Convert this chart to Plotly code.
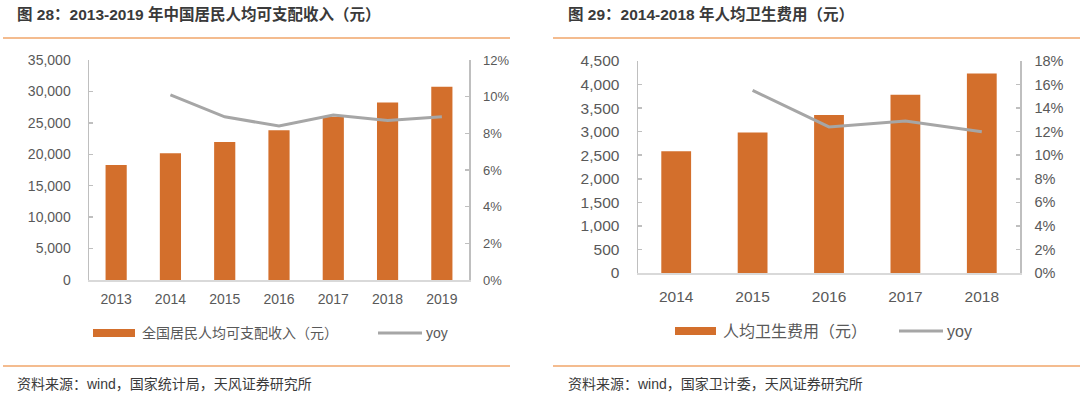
import plotly.graph_objects as go

# ---------------- data ----------------
years_a = ["2013", "2014", "2015", "2016", "2017", "2018", "2019"]
income = [18311, 20167, 21966, 23821, 25974, 28228, 30733]
income_yoy = [None, 0.101, 0.089, 0.084, 0.090, 0.087, 0.089]

years_b = ["2014", "2015", "2016", "2017", "2018"]
health = [2582, 2981, 3352, 3784, 4237]
health_yoy = [None, 0.155, 0.124, 0.129, 0.120]

title_a = "图 28：2013-2019 年中国居民人均可支配收入（元）"
title_b = "图 29：2014-2018 年人均卫生费用（元）"
legend_a = "全国居民人均可支配收入（元）"
legend_b = "人均卫生费用（元）"
source_a = "资料来源：wind，国家统计局，天风证券研究所"
source_b = "资料来源：wind，国家卫计委，天风证券研究所"

W, H = 1080, 396
BAR = "#D36F2C"
LINE = "#A6A6A6"
AX = "#BFBFBF"
TXT = "#595959"
ORANGE_RULE = "#F0A66A"
CJK = "Liberation Sans, Noto Sans CJK SC, sans-serif"
NUM = "Liberation Sans, Arial, sans-serif"


def px(x):
    return x / W


def py(y):
    return 1 - y / H


fig = go.Figure()
fig.add_trace(go.Bar(x=years_a, y=income, marker=dict(color=BAR, line=dict(width=0)),
                     xaxis="x", yaxis="y", showlegend=False))
fig.add_trace(go.Scatter(x=years_a, y=income_yoy, mode="lines", line=dict(color=LINE, width=3),
                         xaxis="x", yaxis="y2", showlegend=False))
fig.add_trace(go.Bar(x=years_b, y=health, marker=dict(color=BAR, line=dict(width=0)),
                     xaxis="x2", yaxis="y3", showlegend=False))
fig.add_trace(go.Scatter(x=years_b, y=health_yoy, mode="lines", line=dict(color=LINE, width=3),
                         xaxis="x2", yaxis="y4", showlegend=False))


def yax(**kw):
    d = dict(showline=True, linecolor=AX, linewidth=1.5, ticks="inside", ticklen=4,
             tickcolor=AX, tickwidth=1.5, showgrid=False, zeroline=False,
             fixedrange=True, automargin=False)
    d.update(kw)
    return d


def xax(**kw):
    d = dict(type="category", showline=True, linecolor="#D9D9D9", linewidth=1.5,
             ticks="", showgrid=False, zeroline=False, automargin=False, fixedrange=True)
    d.update(kw)
    return d


fig.update_layout(
    width=W, height=H, autosize=False,
    margin=dict(l=0, r=0, t=0, b=0, pad=0),
    paper_bgcolor="white", plot_bgcolor="white",
    bargap=0.61,
    showlegend=False,
    hovermode=False,
    xaxis=xax(domain=[px(89), px(469)], anchor="y", ticklabelstandoff=6,
              tickfont=dict(family=NUM, size=14, color=TXT)),
    yaxis=yax(domain=[py(280), py(60)], anchor="x", range=[0, 35000], dtick=5000,
              tickformat=",", ticklabelstandoff=14,
              tickfont=dict(family=NUM, size=14, color=TXT)),
    yaxis2=yax(overlaying="y", side="right", anchor="x", range=[0, 0.12], dtick=0.02,
               tickformat=".0%", ticklabelstandoff=10,
               tickfont=dict(family=NUM, size=13, color=TXT)),
    xaxis2=xax(domain=[px(638), px(1020)], anchor="y3", ticklabelstandoff=9,
               tickfont=dict(family=NUM, size=15.5, color=TXT)),
    yaxis3=yax(domain=[py(273), py(61)], anchor="x2", range=[0, 4500], dtick=500,
               tickformat=",", ticklabelstandoff=14,
               tickfont=dict(family=NUM, size=15.5, color=TXT)),
    yaxis4=yax(overlaying="y3", side="right", anchor="x2", range=[0, 0.18], dtick=0.02,
               tickformat=".0%", ticklabelstandoff=10,
               tickfont=dict(family=NUM, size=14.5, color=TXT)),
)

shapes = []
annotations = []

# title rules and footer rules
for (x0, x1) in [(3, 510), (553, 1080)]:
    shapes.append(dict(type="line", xref="paper", yref="paper", x0=px(x0), x1=px(x1),
                       y0=py(38), y1=py(38), line=dict(color=ORANGE_RULE, width=1.5)))
    shapes.append(dict(type="line", xref="paper", yref="paper", x0=px(x0), x1=px(x1),
                       y0=py(366), y1=py(366), line=dict(color=ORANGE_RULE, width=1.5)))

# titles
for (x, t) in [(15, title_a), (566, title_b)]:
    annotations.append(dict(xref="paper", yref="paper", x=px(x), y=py(14), text="<b>" + t + "</b>",
                            showarrow=False, xanchor="left", yanchor="middle",
                            font=dict(family=CJK, size=15.5, color="#3A3A3A")))

# sources
for (x, t) in [(15, source_a), (566, source_b)]:
    annotations.append(dict(xref="paper", yref="paper", x=px(x), y=py(384), text=t,
                            showarrow=False, xanchor="left", yanchor="middle",
                            font=dict(family=CJK, size=14, color="#3A3A3A")))

# custom legends
legends = [
    # (bar swatch x0,x1, label x, line x0,x1, yoy x, y, font size, label)
    (93, 135, 140, 378, 422, 424, 333, 14, legend_a),
    (675, 716, 721, 899, 943, 945, 331, 16, legend_b),
]
for (sx0, sx1, lx, lx0, lx1, yx, yy, fs, lab) in legends:
    shapes.append(dict(type="rect", xref="paper", yref="paper", x0=px(sx0), x1=px(sx1),
                       y0=py(yy + 4), y1=py(yy - 4), fillcolor=BAR, line=dict(width=0)))
    annotations.append(dict(xref="paper", yref="paper", x=px(lx), y=py(yy), text=lab,
                            showarrow=False, xanchor="left", yanchor="middle",
                            font=dict(family=CJK, size=fs, color=TXT)))
    shapes.append(dict(type="line", xref="paper", yref="paper", x0=px(lx0), x1=px(lx1),
                       y0=py(yy), y1=py(yy), line=dict(color=LINE, width=3)))
    annotations.append(dict(xref="paper", yref="paper", x=px(yx), y=py(yy), text="yoy",
                            showarrow=False, xanchor="left", yanchor="middle",
                            font=dict(family=CJK, size=fs, color=TXT)))

fig.update_layout(shapes=shapes, annotations=annotations)
fig.write_html("out.html",
               config={"displayModeBar": False, "staticPlot": True},
               post_script="document.body.style.margin='0';document.body.style.overflow='hidden';")
